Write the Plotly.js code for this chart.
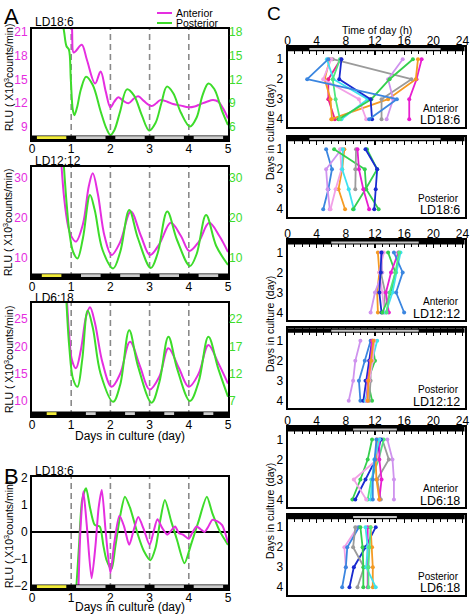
<!DOCTYPE html>
<html><head><meta charset="utf-8">
<script src="https://cdn.plot.ly/plotly-3.0.1.min.js"></script>
<style>html,body{margin:0;padding:0;background:#fff;}#chart{width:474px;height:614px;}</style>
</head><body><div id="chart"></div>
<script>
// ---------- Panel A : LD18:6 ----------
const dayAntLD18 = [0.95,1.02,1.06,1.12,1.27,1.4,1.61,1.75,1.88,2.0,2.1,2.2,2.33,2.46,2.6,2.71,2.85,3.05,3.17,3.27,3.45,3.6,3.8,3.99,4.15,4.3,4.46,4.62,4.75,4.88,5.0];
const rluAntLD18 = [26,21.5,18.4,18.6,19.4,17.5,14.5,16.0,13.5,11.5,12.2,12.75,12.3,12.0,12.6,12.9,12.3,11.65,12.0,12.4,12.2,11.9,11.7,11.5,11.6,11.9,12.2,12.4,12.2,11.3,10.1];
const dayPosLD18 = [0.76,0.82,0.88,0.94,0.99,1.04,1.08,1.15,1.25,1.38,1.55,1.75,1.9,2.0,2.1,2.25,2.42,2.6,2.8,2.99,3.15,3.3,3.44,3.6,3.8,4.03,4.2,4.35,4.5,4.65,4.85,5.0];
const rluPosLD18 = [20,18.0,16.2,15.8,12,8.2,7.5,8.5,10.8,12.35,11.3,8,5.8,5.0,5.6,8.0,10.75,10.0,7.5,5.55,6.5,9.0,11.1,10.3,7.8,6.05,7.2,10.0,11.5,10.8,8.0,6.25];
// ---------- Panel A : LD12:12 ----------
const dayAntLD12 = [0.74,0.82,0.92,1.0,1.12,1.3,1.45,1.55,1.68,1.85,2.03,2.25,2.52,2.78,3.01,3.25,3.54,3.8,4.01,4.25,4.52,4.78,5.0];
const rluAntLD12 = [35,25,18,15.5,14.1,18.5,28,31.2,26,15.5,10.75,14,21.6,15.5,10.75,13.5,18.8,15.5,11.75,14,18.8,15.5,11.5];
const dayPosLD12 = [0.8,0.88,0.96,1.05,1.16,1.3,1.48,1.6,1.8,2.07,2.25,2.48,2.7,3.03,3.2,3.45,3.7,4.03,4.2,4.44,4.7,5.0];
const rluPosLD12 = [35,24,16,11.5,9.9,15,25.75,22,12,7.4,11.5,22,15,7.5,11,21.6,14.5,8.0,11,20.75,13,8.25];
// ---------- Panel A : LD6:18 ----------
const dayAntLD6 = [0.88,0.95,1.02,1.12,1.25,1.38,1.48,1.6,1.8,2.03,2.25,2.5,2.75,3.0,3.25,3.48,3.75,4.0,4.25,4.5,4.75,5.0];
const rluAntLD6 = [30,22,17.5,16.0,19.5,25.5,27.2,24.5,17,12.6,15,20.9,16.5,12.1,14.5,19.7,16,12.6,15,20.3,17,13.2];
const dayPosLD6 = [0.86,0.95,1.05,1.16,1.28,1.42,1.55,1.75,2.07,2.25,2.48,2.7,3.05,3.25,3.48,3.7,4.03,4.25,4.5,4.75,5.0];
const rluPosLD6 = [28,17,11,9.6,14.5,23.6,20.5,12,6.85,10,20.0,13.5,6.7,10.5,18.8,13,7,10.5,18.8,13,7.8];
// ---------- Panel B : detrended LD18:6 ----------
const dayAntB = [1.18,1.24,1.31,1.4,1.52,1.62,1.7,1.78,1.88,2.0,2.1,2.23,2.35,2.48,2.6,2.71,2.85,3.0,3.1,3.2,3.32,3.45,3.55,3.65,3.75,3.85,4.0,4.1,4.2,4.3,4.4,4.5,4.6,4.72,4.85,5.0];
const rluAntB = [-2.3,0.2,1.5,0.2,-1.72,-0.5,0.9,1.56,0.0,-1.53,-0.4,0.6,0.2,-0.48,0.1,0.55,0.1,-0.48,0.0,0.47,0.15,-0.1,0.05,0.2,-0.05,-0.1,-0.25,0.0,0.2,0.1,0.0,0.2,0.45,0.4,0.25,-0.4];
const dayPosB = [1.12,1.2,1.28,1.38,1.48,1.6,1.73,1.82,1.9,2.03,2.12,2.25,2.37,2.5,2.7,2.85,3.02,3.15,3.28,3.39,3.55,3.7,3.89,4.05,4.25,4.46,4.6,4.8,5.0];
const rluPosB = [-2.3,-0.5,1.2,1.62,0.9,0.26,0.2,-0.5,-1.04,-1.38,-0.6,0.6,1.31,0.9,-0.1,-0.7,-1.05,-0.6,0.5,1.19,0.4,-0.3,-1.16,-0.5,0.4,1.31,0.7,0.0,-0.48];
// light periods (day units)
const light18 = [[0.125,0.875],[1.125,1.875],[2.125,2.875],[3.125,3.875],[4.125,4.875]];
const light12 = [[0.25,0.75],[1.25,1.75],[2.25,2.75],[3.25,3.75],[4.25,4.75]];
const light6  = [[0.375,0.625],[1.375,1.625],[2.375,2.625],[3.375,3.625],[4.375,4.625]];
// ---------- Panel C : peak time of day (h) for days 1-4 ----------
const cultureDays = [1,2,3,4];
const hourTicks = [0,4,8,12,16,20,24];
const antLD18 = [[18.4,17.7,16.7,16.7],[7.3,5.6,5.6,6.5],[17.9,17.6,13.8,6.0],[5.8,5.1,5.9,6.1],[6.2,17.0,12.9,12.9],[15.8,13.8,14.5,13.6],[6.0,4.9,9.8,10.8],[5.4,6.3,11.0,7.4],[17.2,14.0,11.5,7.0],[7.2,6.2,6.6,7.2],[7.4,7.1,11.4,11.6],[5.6,2.7,15.0,11.2]];
const posLD18 = [[5.3,6.1,5.6,4.9],[7.4,5.3,5.5,5.8],[7.8,7.5,7.0,7.9],[7.2,7.4,6.6,5.9],[7.6,7.5,8.4,9.1],[6.4,10.6,10.8,12.5],[10.9,12.3,10.7,9.0],[9.4,9.3,9.3,null],[9.6,9.8,10.4,11.2],[10.7,12.3,12.1,11.9]];
const antLD12 = [[12.4,12.6,12.3,12.4],[12.8,13.0,12.0,11.4],[13.0,12.8,13.4,13.2],[13.2,12.6,13.0,13.3],[12.9,12.8,12.6,12.9],[13.8,14.8,14.2,13.0],[15.2,14.2,13.5,13.9],[15.5,14.9,14.4,13.5],[14.6,15.8,14.9,16.0],[15.3,14.8,14.0,13.6]];
const posLD12 = [[10.0,9.3,9.0,8.4],[11.4,10.6,9.8,10.0],[11.6,11.2,10.7,10.4],[11.6,12.0,11.0,11.6],[12.3,11.6,11.2,10.7],[11.9,11.4,11.4,11.2],[11.6,11.4,11.0,10.9],[11.9,11.7,11.2,10.9],[11.8,11.5,11.1,11.0]];
const antLD6 = [[13.7,14.4,14.6,14.6],[13.0,13.9,12.3,12.8],[11.6,11.0,10.0,8.9],[13.2,12.5,11.5,11.0],[12.8,12.1,10.7,9.3],[12.2,12.3,9.1,10.8],[12.6,12.6,12.9,12.6],[12.3,12.1,12.2,12.6],[12.6,11.9,11.6,11.4],[12.2,12.0,11.7,11.7]];
const posLD6 = [[9.6,7.8,8.0,null],[9.8,8.2,8.0,7.5],[12.1,10.7,9.1,8.5],[9.3,9.0,10.5,9.6],[10.0,10.3,10.4,10.4],[11.0,11.0,11.1,11.0],[11.4,11.6,11.7,11.7],[10.7,11.0,10.8,12.1],[11.4,11.2,11.1,11.1]];
const cLight = [[3,21],[3,21],[6,18],[6,18],[9,15],[9,15]];
const cRegion = ['Anterior','Posterior','Anterior','Posterior','Anterior','Posterior'];
const cLD = ['LD18:6','LD18:6','LD12:12','LD12:12','LD6:18','LD6:18'];

// ---------- styles ----------
const MAG='#e52ee0', GRN='#3ddc2a';
const cc = {mag:'#e81ed0',red:'#ec1f8f',ora:'#f59a23',gra:'#9b9b9b',lil:'#cf93ee',pin:'#f2a0e6',cya:'#3fe2ef',grn:'#35cf4e',gr2:'#4fe87f',dbl:'#1a2bd0',blu:'#3b86e0'};
const colAnt18 = [cc.mag,cc.red,cc.ora,cc.ora,cc.gra,cc.lil,cc.pin,cc.cya,cc.grn,cc.gr2,cc.dbl,cc.blu];
const colPos18 = [cc.blu,cc.lil,cc.ora,cc.pin,cc.cya,cc.grn,cc.grn,cc.gra,cc.mag,cc.dbl];
const colAnt12 = [cc.ora,cc.lil,cc.gra,cc.pin,cc.dbl,cc.grn,cc.mag,cc.cya,cc.blu,cc.gr2];
const colPos12 = [cc.lil,cc.blu,cc.dbl,cc.grn,cc.cya,cc.gra,cc.mag,cc.pin,cc.ora];
const colAnt6 = [cc.lil,cc.gra,cc.grn,cc.gr2,cc.dbl,cc.pin,cc.mag,cc.ora,cc.cya,cc.blu];
const colPos6 = [cc.pin,cc.blu,cc.dbl,cc.gra,cc.grn,cc.mag,cc.ora,cc.cya,cc.gr2];

const W=474,H=614;
const fx=p=>p/W, fy=p=>1-p/H;
const FONT='Liberation Sans, Arial, sans-serif';
const traces=[], shapes=[], ann=[];
const layout={width:W,height:H,margin:{l:0,r:0,t:0,b:0},autosize:false,showlegend:false,
  paper_bgcolor:'#fff',plot_bgcolor:'#fff',font:{family:FONT,size:12,color:'#000'}};
function txt(text,px,py,size,o){
  ann.push(Object.assign({text:text,x:fx(px),y:fy(py),xref:'paper',yref:'paper',xanchor:'center',yanchor:'middle',showarrow:false,font:{size:size}},o||{}));
}
function line(x,y,xa,ya,color,smooth){
  traces.push({x:x,y:y,xaxis:xa,yaxis:ya,mode:'lines',line:{color:color,width:2,shape:'spline',smoothing:smooth},hoverinfo:'skip'});
}
// A/B panels
const panels=[
  {xa:'x',ya:'y',y2:'y2',top:29,bot:140,yr:[7.36,21.38],y2r:[4.36,18.38],lt:[9,12,15,18,21],rt:[6,9,12,15,18],light:light18,title:'LD18:6',
   ant:[dayAntLD18,rluAntLD18],pos:[dayPosLD18,rluPosLD18],ttl:22,ytc:78},
  {xa:'x2',ya:'y3',y2:'y4',top:167,bot:278,yr:[5.0,32.75],y2r:[5.0,32.75],lt:[10,20,30],rt:[10,20,30],light:light12,title:'LD12:12',
   ant:[dayAntLD12,rluAntLD12],pos:[dayPosLD12,rluPosLD12],ttl:161,ytc:223},
  {xa:'x3',ya:'y5',y2:'y6',top:303,bot:416,yr:[7.25,27.99],y2r:[4.25,24.99],lt:[10,15,20,25],rt:[7,12,17,22],light:light6,title:'LD6:18',
   ant:[dayAntLD6,rluAntLD6],pos:[dayPosLD6,rluPosLD6],ttl:297.5,ytc:360},
  {xa:'x4',ya:'y7',y2:null,top:477,bot:589,yr:[-2.12,2.04],lt:[-2,-1,0,1,2],light:light18,title:'LD18:6',
   ant:[dayAntB,rluAntB],pos:[dayPosB,rluPosB],ttl:471,ytc:535}
];
panels.forEach((p,i)=>{
  const xk=p.xa==='x'?'xaxis':'xaxis'+p.xa.slice(1);
  const yk=p.ya==='y'?'yaxis':'yaxis'+p.ya.slice(1);
  layout[xk]={domain:[fx(32),fx(228)],range:[0,5],anchor:p.ya,tickvals:[0,1,2,3,4,5],showline:true,mirror:true,linecolor:'#000',linewidth:2,
    ticks:'',showgrid:false,zeroline:false,tickfont:{size:12},ticklabelstandoff:-3,fixedrange:true};
  layout[yk]={domain:[fy(p.bot),fy(p.top)],range:p.yr,anchor:p.xa,tickvals:p.lt,showline:true,mirror:true,linecolor:'#000',linewidth:2,
    ticks:'',showgrid:false,zeroline:i===3,zerolinecolor:'#000',zerolinewidth:1.6,tickfont:{size:12,color:i===3?'#000':MAG},fixedrange:true};
  if(p.y2){
    const y2k='yaxis'+p.y2.slice(1);
    layout[y2k]={overlaying:p.ya,side:'right',anchor:p.xa,range:p.y2r,tickvals:p.rt,showline:false,showgrid:false,zeroline:false,ticks:'',
      tickfont:{size:12,color:GRN},fixedrange:true};
  }
  const h=p.bot-p.top;
  [1,2,3,4].forEach(d=>shapes.push({type:'line',xref:p.xa,yref:p.ya+' domain',x0:d,x1:d,y0:0,y1:1,layer:'below',line:{color:'#8a8a8a',width:1.6,dash:'6px,4px'}}));
  shapes.push({type:'rect',xref:p.xa,yref:p.ya+' domain',x0:0,x1:5,y0:0,y1:4.6/h,fillcolor:'#000',line:{width:0},layer:'above'});
  p.light.forEach((s,j)=>shapes.push({type:'rect',xref:p.xa,yref:p.ya+' domain',x0:s[0],x1:s[1],y0:1/h,y1:3.8/h,
    fillcolor:j===0?'#f2ec3a':'#cdcdcd',line:{width:0},layer:'above'}));
  const sm=i===3?0.7:1.0;
  line(p.pos[0],p.pos[1],p.xa,p.y2||p.ya,GRN,sm);
  line(p.ant[0],p.ant[1],p.xa,p.ya,MAG,sm);
  txt(p.title,33,p.ttl,12,{xanchor:'left'});
  txt('RLU ( X10<sup>3</sup>counts/min)',8,p.ytc,10.5,{textangle:-90});
});
txt('Days in culture (day)',130,436,12);
txt('Days in culture (day)',130,606.5,12);
txt('A',2,16,22,{xanchor:'left'});
txt('B',2,476,22,{xanchor:'left'});
txt('C',265,13,19,{xanchor:'left'});
[['Anterior',MAG,13],['Posterior',GRN,23]].forEach(l=>{
  shapes.push({type:'line',xref:'paper',yref:'paper',x0:fx(157),x1:fx(172),y0:fy(l[2]),y1:fy(l[2]),line:{color:l[1],width:2}});
  txt(l[0],174,l[2],10.5,{xanchor:'left'});
});

// Panel C
const cData=[antLD18,posLD18,antLD12,posLD12,antLD6,posLD6];
const cCols=[colAnt18,colPos18,colAnt12,colPos12,colAnt6,colPos6];
const cTop=[46.7,136.7,240,328.3,427,514.7];
const cH=80;
cData.forEach((series,k)=>{
  const xa='x'+(5+k), ya='y'+(8+k);
  layout['xaxis'+(5+k)]={domain:[fx(287.5),fx(464.5)],range:[0,24.28],anchor:ya,side:'top',tickvals:hourTicks,showticklabels:k%2===0,tickangle:0,
    ticks:'inside',ticklen:8,tickwidth:1.2,tickcolor:'#000',ticklabelstandoff:-5,
    minor:{tick0:0,dtick:1,ticks:'inside',ticklen:7,tickwidth:1,tickcolor:'#000',showgrid:false},
    showline:true,mirror:true,linecolor:'#000',linewidth:2,showgrid:false,zeroline:false,
    tickfont:{size:12},fixedrange:true};
  layout['yaxis'+(8+k)]={domain:[fy(cTop[k]+cH),fy(cTop[k])],range:[4.375,0.375],anchor:xa,tickvals:[1,2,3,4],ticks:'',showline:true,mirror:true,
    linecolor:'#000',linewidth:2,showgrid:false,zeroline:false,tickfont:{size:12},fixedrange:true};
  series.forEach((s,i)=>traces.push({x:s,y:cultureDays,xaxis:xa,yaxis:ya,mode:'lines+markers',connectgaps:false,
    line:{color:cCols[k][i],width:1.8},marker:{size:4,color:cCols[k][i]},hoverinfo:'skip'}));
  shapes.push({type:'rect',xref:xa+' domain',yref:ya+' domain',x0:0,x1:1,y0:1-4.5/cH,y1:1,fillcolor:'#000',line:{width:0},layer:'above'});
  shapes.push({type:'rect',xref:xa,yref:ya+' domain',x0:cLight[k][0],x1:cLight[k][1],y0:1-3.4/cH,y1:1-1.4/cH,fillcolor:'#c4c4c4',line:{width:0},layer:'above'});
  txt(cRegion[k],461,cTop[k]+61.5,10,{xanchor:'right'});
  txt(cLD[k],462,cTop[k]+73.5,12.5,{xanchor:'right'});
});
txt('Time of day (h)',377,30,10.5);
[132,324,511].forEach(c=>txt('Days in culture (day)',270,c,10.5,{textangle:-90}));

layout.shapes=shapes;layout.annotations=ann;
Plotly.newPlot('chart',traces,layout,{staticPlot:true,displayModeBar:false});
</script></body></html>
